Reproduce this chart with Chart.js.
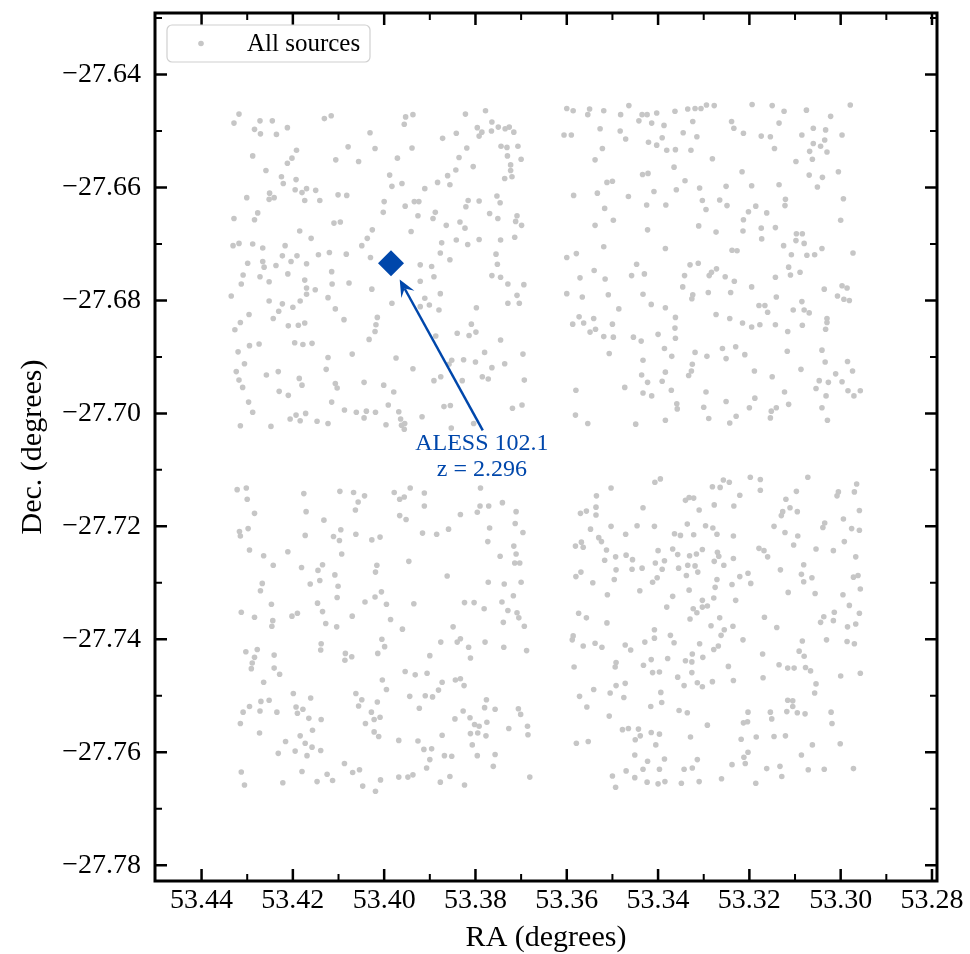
<!DOCTYPE html>
<html>
<head>
<meta charset="utf-8">
<script src="https://cdn.jsdelivr.net/npm/chart.js@4"></script>
<style>
  html, body { margin: 0; padding: 0; background: #fff; }
</style>
</head>
<body>
<canvas id="field" width="970" height="954"></canvas>
<script>
// Catalogue positions [RA, Dec] in degrees, one list per sub-field
const nwField = [
  [53.4318,-27.6470],[53.4329,-27.6486],[53.4272,-27.6482],[53.4245,-27.6482],[53.4284,-27.6497],[53.4271,-27.6505],[53.4236,-27.6506],[53.4212,-27.6494],
  [53.4131,-27.6478],[53.4116,-27.6473],[53.4031,-27.6503],[53.3953,-27.6475],[53.3937,-27.6471],[53.3956,-27.6488],[53.3822,-27.6470],[53.3778,-27.6464],
  [53.3764,-27.6484],[53.3796,-27.6494],[53.3786,-27.6502],[53.3792,-27.6509],[53.3765,-27.6500],[53.3750,-27.6493],[53.3735,-27.6496],[53.3726,-27.6493],
  [53.3716,-27.6502],[53.3872,-27.6513],[53.3842,-27.6504],[53.4288,-27.6544],[53.4192,-27.6534],[53.4202,-27.6548],[53.4212,-27.6557],[53.4259,-27.6570],
  [53.4079,-27.6528],[53.4020,-27.6531],[53.4106,-27.6551],[53.4056,-27.6554],[53.3971,-27.6548],[53.3939,-27.6530],[53.3819,-27.6530],[53.3836,-27.6547],
  [53.3805,-27.6563],[53.3843,-27.6569],[53.3744,-27.6527],[53.3731,-27.6529],[53.3707,-27.6527],[53.3730,-27.6544],[53.3700,-27.6550],[53.3723,-27.6560],
  [53.3723,-27.6570],[53.3736,-27.6584],[53.3720,-27.6581],[53.3861,-27.6579],[53.3856,-27.6595],[53.3883,-27.6591],[53.3911,-27.6602],[53.3988,-27.6578],
  [53.3983,-27.6598],[53.3961,-27.6593],[53.4225,-27.6581],[53.4221,-27.6593],[53.4193,-27.6586],[53.4195,-27.6604],[53.4180,-27.6609],[53.4170,-27.6602],
  [53.4150,-27.6605],[53.4251,-27.6610],[53.4252,-27.6621],[53.4241,-27.6618],[53.4301,-27.6618],[53.4174,-27.6623],[53.4141,-27.6623],[53.4101,-27.6613],
  [53.4082,-27.6614],[53.4000,-27.6625],[53.3954,-27.6633],[53.3934,-27.6625],[53.3924,-27.6625],[53.4002,-27.6644],[53.3926,-27.6650],[53.3888,-27.6644],
  [53.3893,-27.6655],[53.3816,-27.6623],[53.3792,-27.6624],[53.3821,-27.6634],[53.3753,-27.6615],[53.3746,-27.6627],[53.3769,-27.6646],[53.3751,-27.6655],
  [53.3709,-27.6650],[53.3712,-27.6660],[53.3699,-27.6667],[53.3864,-27.6667],[53.3834,-27.6661],[53.3823,-27.6672],[53.4277,-27.6645],[53.4329,-27.6655],
  [53.4284,-27.6657],[53.4110,-27.6663],[53.4096,-27.6661],[53.4185,-27.6677],[53.4160,-27.6690],[53.4026,-27.6675],[53.4037,-27.6690],[53.4049,-27.6703],
  [53.3941,-27.6678],[53.3874,-27.6698],[53.3842,-27.6693],[53.3817,-27.6701],[53.3792,-27.6692],[53.3745,-27.6693],[53.3714,-27.6688],[53.4331,-27.6703],
  [53.4318,-27.6699],[53.4288,-27.6700],[53.4266,-27.6707],[53.4217,-27.6703],[53.4223,-27.6721],[53.4191,-27.6721],[53.4204,-27.6731],[53.4170,-27.6735],
  [53.4144,-27.6719],[53.4120,-27.6715],[53.4083,-27.6718],[53.4030,-27.6724],[53.4299,-27.6734],[53.4266,-27.6731],[53.4237,-27.6738],[53.3877,-27.6716],
  [53.3856,-27.6728],[53.3921,-27.6737],[53.3896,-27.6740],[53.3755,-27.6718],[53.3752,-27.6736],
  [53.4263,-27.6741],[53.4309,-27.6755],[53.4313,-27.6771],[53.4272,-27.6758],[53.4252,-27.6767],[53.4211,-27.6753],[53.4174,-27.6764],[53.4170,-27.6778],
  [53.4170,-27.6789],[53.4151,-27.6781],[53.4115,-27.6749],[53.4114,-27.6771],[53.4077,-27.6769],[53.4027,-27.6780],[53.4335,-27.6792],[53.4252,-27.6801],
  [53.4223,-27.6806],[53.4231,-27.6819],[53.4200,-27.6812],[53.4184,-27.6801],[53.4123,-27.6795],[53.4107,-27.6815],[53.3983,-27.6805],[53.3921,-27.6766],
  [53.3891,-27.6758],[53.3877,-27.6788],[53.3911,-27.6796],[53.3921,-27.6811],[53.3901,-27.6808],[53.3880,-27.6817],[53.3764,-27.6756],[53.3745,-27.6759],
  [53.3729,-27.6771],[53.3709,-27.6791],[53.3729,-27.6805],[53.3704,-27.6805],[53.3694,-27.6772],[53.3798,-27.6813],[53.4296,-27.6825],[53.4315,-27.6839],
  [53.4327,-27.6852],[53.4243,-27.6832],[53.4210,-27.6845],[53.4188,-27.6844],[53.4174,-27.6840],[53.4088,-27.6834],[53.4015,-27.6830],[53.4018,-27.6843],
  [53.4020,-27.6855],[53.4033,-27.6869],[53.3809,-27.6842],[53.3840,-27.6858],[53.3814,-27.6862],[53.3799,-27.6856],[53.3745,-27.6870],[53.3887,-27.6863],
  [53.4295,-27.6880],[53.4274,-27.6877],[53.4196,-27.6875],[53.4178,-27.6878],[53.4158,-27.6876],[53.4320,-27.6891],[53.4306,-27.6912],[53.4324,-27.6926],
  [53.4318,-27.6941],[53.4310,-27.6954],[53.4258,-27.6932],[53.4232,-27.6926],[53.4123,-27.6901],[53.4070,-27.6895],[53.4127,-27.6922],[53.3974,-27.6902],
  [53.3937,-27.6921],[53.3852,-27.6906],[53.3826,-27.6905],[53.3800,-27.6909],[53.3780,-27.6892],[53.3764,-27.6919],[53.3736,-27.6912],[53.3696,-27.6895],
  [53.4186,-27.6938],[53.4180,-27.6950],[53.4107,-27.6947],[53.4103,-27.6955],[53.4044,-27.6945],[53.4001,-27.6950],[53.3979,-27.6962],[53.3891,-27.6942],
  [53.3876,-27.6935],[53.3858,-27.6913],[53.3829,-27.6942],[53.3785,-27.6935],[53.3772,-27.6939],[53.3693,-27.6941],[53.4230,-27.6961],[53.4210,-27.6968],
  [53.4297,-27.6980],[53.4288,-27.6998],[53.4115,-27.6980],[53.4087,-27.6994],[53.4061,-27.6998],[53.4039,-27.6996],[53.4019,-27.6998],[53.3991,-27.6985],
  [53.3968,-27.6997],[53.4044,-27.7008],[53.3964,-27.7010],[53.4206,-27.7010],[53.4193,-27.7003],[53.4184,-27.7013],[53.4172,-27.7000],[53.4147,-27.7014],
  [53.4123,-27.7018],[53.4315,-27.7022],[53.4248,-27.7023],[53.3996,-27.7020],[53.3962,-27.7021],[53.3955,-27.7018],[53.3956,-27.7028],[53.3917,-27.7006],
  [53.3869,-27.6988],[53.3855,-27.6986],[53.3853,-27.7026],[53.3804,-27.7018],[53.3719,-27.6991],[53.3698,-27.6985]
];

const neField = [
  [53.3600,-27.6460],[53.3586,-27.6464],[53.3550,-27.6461],[53.3554,-27.6471],[53.3519,-27.6464],[53.3482,-27.6471],[53.3464,-27.6455],[53.3435,-27.6471],
  [53.3424,-27.6471],[53.3403,-27.6468],[53.3442,-27.6482],[53.3414,-27.6486],[53.3387,-27.6490],[53.3363,-27.6465],[53.3335,-27.6461],[53.3319,-27.6460],
  [53.3306,-27.6460],[53.3294,-27.6454],[53.3277,-27.6455],[53.3324,-27.6483],[53.3345,-27.6503],[53.3315,-27.6510],[53.3391,-27.6512],[53.3421,-27.6520],
  [53.3403,-27.6525],[53.3381,-27.6534],[53.3362,-27.6533],[53.3328,-27.6534],[53.3281,-27.6549],[53.3239,-27.6483],[53.3234,-27.6495],[53.3213,-27.6504],
  [53.3194,-27.6453],[53.3150,-27.6455],[53.3124,-27.6465],[53.3135,-27.6486],[53.3075,-27.6463],[53.3022,-27.6474],[53.2979,-27.6454],[53.3606,-27.6507],
  [53.3590,-27.6507],[53.3527,-27.6496],[53.3483,-27.6500],[53.3471,-27.6514],[53.3522,-27.6531],[53.3538,-27.6551],[53.3174,-27.6509],[53.3154,-27.6510],
  [53.3145,-27.6531],[53.3085,-27.6507],[53.3060,-27.6495],[53.3033,-27.6498],[53.2997,-27.6507],[53.3060,-27.6522],[53.3035,-27.6516],[53.3044,-27.6527],
  [53.3068,-27.6536],[53.3030,-27.6537],[53.3098,-27.6554],[53.3062,-27.6550],[53.3365,-27.6564],[53.3434,-27.6577],[53.3422,-27.6575],[53.3512,-27.6591],
  [53.3500,-27.6589],[53.3341,-27.6588],[53.3216,-27.6572],[53.3069,-27.6578],[53.3040,-27.6582],[53.3005,-27.6572],[53.3585,-27.6614],[53.3533,-27.6610],
  [53.3465,-27.6616],[53.3409,-27.6607],[53.3360,-27.6604],[53.3309,-27.6601],[53.3251,-27.6598],[53.3195,-27.6597],[53.3135,-27.6595],[53.3051,-27.6599],
  [53.3517,-27.6637],[53.3425,-27.6631],[53.3383,-27.6631],[53.3303,-27.6623],[53.3295,-27.6639],[53.3265,-27.6622],[53.3249,-27.6632],[53.3186,-27.6633],
  [53.3202,-27.6643],[53.3162,-27.6645],[53.3213,-27.6657],[53.3121,-27.6621],[53.3122,-27.6632],[53.2994,-27.6620],[53.3538,-27.6667],[53.3498,-27.6658],
  [53.3423,-27.6675],[53.3311,-27.6668],[53.3273,-27.6679],[53.3214,-27.6677],[53.3174,-27.6672],[53.3143,-27.6671],[53.3173,-27.6691],[53.3097,-27.6682],
  [53.3084,-27.6682],[53.3098,-27.6694],[53.3080,-27.6699],[53.3000,-27.6658],[53.3519,-27.6705],[53.3384,-27.6708],[53.3238,-27.6711],[53.3227,-27.6712],
  [53.3125,-27.6703],[53.3041,-27.6708],[53.3057,-27.6719],[53.3074,-27.6720],[53.3108,-27.6719],[53.2973,-27.6716],[53.3600,-27.6724],[53.3579,-27.6717],
  [53.3447,-27.6736],[53.3330,-27.6737],[53.3312,-27.6734],[53.3114,-27.6741],[53.3540,-27.6747],[53.3571,-27.6760],[53.3516,-27.6762],[53.3458,-27.6756],
  [53.3430,-27.6753],[53.3342,-27.6756],[53.3288,-27.6756],[53.3283,-27.6750],[53.3272,-27.6744],[53.3253,-27.6758],[53.3233,-27.6766],[53.3143,-27.6759],
  [53.3110,-27.6755],[53.3089,-27.6750],[53.3600,-27.6788],[53.3566,-27.6794],[53.3509,-27.6790],[53.3433,-27.6789],[53.3346,-27.6776],[53.3324,-27.6790],
  [53.3326,-27.6797],[53.3290,-27.6786],[53.3241,-27.6786],[53.3195,-27.6776],[53.3141,-27.6794],[53.3036,-27.6780],[53.2997,-27.6774],[53.2986,-27.6778],
  [53.3007,-27.6792],[53.2993,-27.6798],[53.2981,-27.6800],[53.3486,-27.6815],[53.3415,-27.6807],[53.3384,-27.6813],[53.3179,-27.6809],[53.3166,-27.6809],
  [53.3160,-27.6821],[53.3085,-27.6802],[53.3104,-27.6817],[53.3080,-27.6817],[53.3069,-27.6822],[53.3573,-27.6829],[53.3587,-27.6842],[53.3563,-27.6840],
  [53.3541,-27.6832],[53.3549,-27.6856],[53.3537,-27.6851],[53.3500,-27.6842],[53.3519,-27.6864],[53.3498,-27.6865],[53.3454,-27.6865],[53.3437,-27.6872],
  [53.3400,-27.6860],[53.3362,-27.6830],[53.3363,-27.6849],[53.3362,-27.6867],[53.3273,-27.6825],[53.3243,-27.6832],[53.3215,-27.6840],[53.3195,-27.6847],
  [53.3177,-27.6843],[53.3143,-27.6843],[53.3116,-27.6855],[53.3084,-27.6844],[53.3030,-27.6832],[53.3030,-27.6839],[53.3033,-27.6851],[53.3507,-27.6894],
  [53.3433,-27.6906],[53.3386,-27.6885],[53.3370,-27.6899],[53.3319,-27.6892],[53.3293,-27.6899],[53.3259,-27.6885],[53.3251,-27.6903],[53.3230,-27.6882],
  [53.3210,-27.6896],[53.3117,-27.6890],[53.3041,-27.6888],[53.3034,-27.6909],[53.2985,-27.6908],[53.3436,-27.6932],[53.3423,-27.6945],[53.3384,-27.6927],
  [53.3391,-27.6943],[53.3325,-27.6913],[53.3327,-27.6925],[53.3333,-27.6933],[53.3189,-27.6925],[53.3150,-27.6935],[53.3087,-27.6922],[53.3011,-27.6930],
  [53.2974,-27.6925],[53.3047,-27.6942],[53.3027,-27.6945],[53.2997,-27.6944],[53.3580,-27.6959],[53.3473,-27.6954],[53.3433,-27.6964],[53.3414,-27.6969],
  [53.3371,-27.6959],[53.3295,-27.6962],[53.3188,-27.6973],[53.3123,-27.6962],[53.3114,-27.6984],[53.3054,-27.6956],[53.3032,-27.6969],[53.2984,-27.6960],
  [53.2971,-27.6969],[53.2957,-27.6960],[53.3359,-27.6983],[53.3358,-27.6992],[53.3300,-27.6989],[53.3251,-27.6979],[53.3200,-27.6990],[53.3152,-27.6996],
  [53.3141,-27.6990],[53.3041,-27.6990],[53.3581,-27.7003],[53.3554,-27.7018],[53.3449,-27.7019],[53.3384,-27.7012],[53.3289,-27.7009],[53.3243,-27.7017],
  [53.3229,-27.7005],[53.3154,-27.7008],[53.3029,-27.7012]
];

const swField = [
  [53.4322,-27.7135],[53.4302,-27.7132],[53.4300,-27.7152],[53.4284,-27.7177],[53.4317,-27.7209],[53.4315,-27.7217],[53.4298,-27.7204],[53.4295,-27.7242],
  [53.4264,-27.7252],[53.4243,-27.7269],[53.4211,-27.7245],[53.4176,-27.7142],[53.4171,-27.7174],[53.4132,-27.7189],[53.4173,-27.7216],[53.4181,-27.7273],
  [53.4145,-27.7278],[53.4135,-27.7268],[53.4162,-27.7302],[53.4141,-27.7296],[53.4108,-27.7286],[53.4101,-27.7306],[53.4103,-27.7326],[53.4097,-27.7138],
  [53.4067,-27.7140],[53.4043,-27.7146],[53.4057,-27.7157],[53.4063,-27.7171],[53.4095,-27.7206],[53.4111,-27.7218],[53.4098,-27.7225],[53.4093,-27.7249],
  [53.4062,-27.7214],[53.4027,-27.7224],[53.4009,-27.7219],[53.4016,-27.7269],[53.4019,-27.7281],[53.3978,-27.7140],[53.3966,-27.7152],[53.3956,-27.7148],
  [53.3943,-27.7132],[53.3912,-27.7141],[53.3912,-27.7164],[53.3966,-27.7181],[53.3952,-27.7188],[53.3916,-27.7212],[53.3885,-27.7214],[53.3859,-27.7205],
  [53.3946,-27.7262],[53.3862,-27.7288],[53.3833,-27.7179],[53.3796,-27.7175],[53.3790,-27.7164],[53.3771,-27.7164],[53.3789,-27.7132],[53.3741,-27.7158],
  [53.3711,-27.7174],[53.3713,-27.7195],[53.3696,-27.7211],[53.3769,-27.7203],[53.3773,-27.7227],[53.3746,-27.7253],[53.3716,-27.7235],[53.3711,-27.7249],
  [53.3714,-27.7265],[53.3703,-27.7265],[53.3772,-27.7299],[53.3737,-27.7302],[53.3700,-27.7299],[53.4267,-27.7301],[53.4271,-27.7314],[53.4247,-27.7338],
  [53.4313,-27.7352],[53.4284,-27.7361],[53.4244,-27.7367],[53.4246,-27.7377],[53.4202,-27.7359],[53.4190,-27.7354],[53.4146,-27.7336],[53.4135,-27.7351],
  [53.4128,-27.7372],[53.4104,-27.7378],[53.4070,-27.7359],[53.4042,-27.7334],[53.4020,-27.7325],[53.4006,-27.7316],[53.3995,-27.7338],[53.3986,-27.7365],
  [53.3960,-27.7382],[53.3935,-27.7337],[53.3824,-27.7335],[53.3803,-27.7335],[53.3781,-27.7346],[53.3742,-27.7334],[53.3717,-27.7323],[53.3729,-27.7349],
  [53.3709,-27.7353],[53.3705,-27.7362],[53.3739,-27.7370],[53.3693,-27.7377],[53.3849,-27.7378],
  [53.4005,-27.7400],[53.3876,-27.7405],[53.3840,-27.7405],[53.3833,-27.7399],[53.3779,-27.7405],[53.4138,-27.7408],[53.4139,-27.7419],[53.3999,-27.7413],
  [53.4014,-27.7425],[53.3900,-27.7429],[53.3815,-27.7414],[53.3811,-27.7433],[53.3738,-27.7414],[53.3688,-27.7420],[53.4303,-27.7422],[53.4278,-27.7418],
  [53.4284,-27.7432],[53.4289,-27.7442],[53.4291,-27.7452],[53.4241,-27.7428],[53.4241,-27.7451],[53.4229,-27.7462],[53.4264,-27.7476],[53.4085,-27.7425],
  [53.4086,-27.7437],[53.4071,-27.7431],[53.3954,-27.7457],[53.3932,-27.7463],[53.3906,-27.7460],[53.4004,-27.7472],[53.3995,-27.7489],[53.3873,-27.7476],
  [53.3881,-27.7490],[53.3844,-27.7472],[53.3833,-27.7470],[53.3825,-27.7482],[53.4199,-27.7496],[53.4161,-27.7504],[53.4270,-27.7510],[53.4252,-27.7508],
  [53.4295,-27.7519],[53.4309,-27.7529],[53.4272,-27.7527],[53.4235,-27.7529],[53.4193,-27.7520],[53.4190,-27.7531],[53.4178,-27.7524],[53.4165,-27.7540],
  [53.4138,-27.7542],[53.4315,-27.7549],[53.4273,-27.7566],[53.4157,-27.7561],[53.4184,-27.7571],[53.4216,-27.7581],[53.4173,-27.7584],[53.4158,-27.7591],
  [53.4139,-27.7597],[53.4195,-27.7598],[53.4232,-27.7602],[53.4169,-27.7606],[53.4062,-27.7496],[53.4049,-27.7507],[53.4056,-27.7518],[53.4028,-27.7529],
  [53.4022,-27.7542],[53.4009,-27.7538],[53.4015,-27.7511],[53.4041,-27.7549],[53.4022,-27.7564],[53.4012,-27.7572],[53.3944,-27.7501],[53.3923,-27.7522],
  [53.3910,-27.7500],[53.3894,-27.7502],[53.3845,-27.7541],[53.3827,-27.7527],[53.3812,-27.7539],[53.3802,-27.7551],[53.3792,-27.7554],[53.3776,-27.7507],
  [53.3780,-27.7521],[53.3757,-27.7524],[53.3775,-27.7547],[53.3795,-27.7566],[53.3811,-27.7567],[53.3777,-27.7571],[53.3873,-27.7570],[53.3968,-27.7579],
  [53.3926,-27.7580],[53.3913,-27.7595],[53.3896,-27.7594],[53.3900,-27.7613],[53.3907,-27.7628],[53.3868,-27.7606],[53.3852,-27.7607],[53.3807,-27.7587],
  [53.3796,-27.7606],[53.3757,-27.7604],[53.3761,-27.7625],[53.3727,-27.7558],[53.3706,-27.7523],[53.3701,-27.7533],[53.3686,-27.7554],[53.3685,-27.7569],
  [53.4087,-27.7620],[53.4069,-27.7636],[53.4054,-27.7631],[53.4008,-27.7649],[53.4047,-27.7660],[53.4019,-27.7669],[53.3968,-27.7644],[53.3948,-27.7644],
  [53.3937,-27.7640],[53.3877,-27.7653],[53.3856,-27.7643],[53.3824,-27.7658],[53.4180,-27.7634],[53.4125,-27.7639],[53.4113,-27.7650],[53.4147,-27.7652],
  [53.4222,-27.7654],[53.4313,-27.7635],[53.4306,-27.7658],[53.3681,-27.7644]
];

const seField = [
  [53.3407,-27.7122],[53.3395,-27.7116],[53.3503,-27.7132],[53.3535,-27.7146],[53.3536,-27.7166],[53.3536,-27.7180],[53.3557,-27.7173],[53.3570,-27.7177],
  [53.3433,-27.7167],[53.3548,-27.7205],[53.3503,-27.7200],[53.3446,-27.7199],[53.3408,-27.7200],[53.3471,-27.7214],[53.3530,-27.7220],[53.3524,-27.7227],
  [53.3568,-27.7228],[53.3581,-27.7235],[53.3564,-27.7237],[53.3513,-27.7242],[53.3493,-27.7254],[53.3517,-27.7260],[53.3470,-27.7251],[53.3456,-27.7259],
  [53.3492,-27.7277],[53.3496,-27.7294],[53.3457,-27.7276],[53.3435,-27.7274],[53.3569,-27.7281],[53.3580,-27.7289],[53.3543,-27.7300],[53.3511,-27.7321],
  [53.3440,-27.7314],[53.3574,-27.7354],[53.3557,-27.7362],[53.3512,-27.7371],[53.3281,-27.7130],[53.3264,-27.7131],[53.3257,-27.7118],[53.3244,-27.7122],
  [53.3198,-27.7113],[53.3176,-27.7117],[53.3176,-27.7136],[53.3221,-27.7145],[53.3234,-27.7164],[53.3277,-27.7162],[53.3340,-27.7154],[53.3332,-27.7149],
  [53.3322,-27.7150],[53.3310,-27.7171],[53.3336,-27.7196],[53.3296,-27.7199],[53.3280,-27.7203],[53.3271,-27.7214],[53.3235,-27.7217],[53.3364,-27.7213],
  [53.3351,-27.7216],[53.3322,-27.7215],[53.3400,-27.7243],[53.3368,-27.7240],[53.3357,-27.7250],[53.3331,-27.7252],[53.3316,-27.7249],[53.3303,-27.7241],
  [53.3270,-27.7246],[53.3267,-27.7253],[53.3277,-27.7262],[53.3406,-27.7265],[53.3386,-27.7261],[53.3391,-27.7276],[53.3355,-27.7274],[53.3335,-27.7269],
  [53.3319,-27.7270],[53.3313,-27.7281],[53.3338,-27.7287],[53.3256,-27.7269],[53.3235,-27.7257],[53.3402,-27.7291],[53.3412,-27.7299],[53.3271,-27.7294],
  [53.3275,-27.7308],[53.3238,-27.7303],[53.3221,-27.7289],[53.3203,-27.7283],[53.3197,-27.7301],[53.3332,-27.7313],[53.3368,-27.7324],[53.3381,-27.7343],
  [53.3303,-27.7331],[53.3323,-27.7346],[53.3315,-27.7353],[53.3303,-27.7343],[53.3292,-27.7341],[53.3278,-27.7327],[53.3230,-27.7331],[53.3330,-27.7364],
  [53.3284,-27.7376],[53.3265,-27.7362],[53.3255,-27.7383],[53.3236,-27.7377],[53.3408,-27.7383],[53.3179,-27.7239],[53.3168,-27.7243],[53.3160,-27.7254],
  [53.3146,-27.7200],[53.3122,-27.7211],[53.3103,-27.7233],[53.3094,-27.7217],[53.3132,-27.7277],[53.3127,-27.7174],[53.3130,-27.7181],[53.3111,-27.7167],
  [53.3095,-27.7174],[53.3120,-27.7152],[53.3097,-27.7138],[53.3072,-27.7113],[53.3039,-27.7202],[53.3035,-27.7194],[53.2994,-27.7187],[53.2976,-27.7204],
  [53.2959,-27.7172],[53.2965,-27.7125],[53.3005,-27.7139],[53.3008,-27.7146],[53.2970,-27.7139],[53.3054,-27.7240],[53.3016,-27.7243],[53.2992,-27.7227],
  [53.2967,-27.7254],[53.2959,-27.7207],[53.3081,-27.7268],[53.3086,-27.7285],[53.3081,-27.7298],[53.3063,-27.7291],[53.3115,-27.7317],[53.3056,-27.7319],
  [53.2995,-27.7321],[53.2972,-27.7290],[53.2962,-27.7287],[53.2957,-27.7311],[53.3167,-27.7361],[53.3140,-27.7379],[53.2981,-27.7340],[53.3014,-27.7352],
  [53.3037,-27.7360],[53.3044,-27.7370],[53.3016,-27.7367],[53.2959,-27.7354],[53.2985,-27.7378],[53.2967,-27.7373],
  [53.3586,-27.7394],[53.3588,-27.7401],[53.3564,-27.7412],[53.3538,-27.7407],[53.3523,-27.7414],[53.3472,-27.7410],[53.3460,-27.7419],[53.3429,-27.7405],
  [53.3408,-27.7398],[53.3373,-27.7393],[53.3365,-27.7406],[53.3309,-27.7408],[53.3262,-27.7393],[53.3278,-27.7418],[53.3268,-27.7412],[53.3214,-27.7401],
  [53.3584,-27.7449],[53.3492,-27.7441],[53.3494,-27.7449],[53.3432,-27.7446],[53.3415,-27.7436],[53.3379,-27.7434],[53.3340,-27.7438],[53.3326,-27.7440],
  [53.3325,-27.7426],[53.3302,-27.7432],[53.3412,-27.7459],[53.3397,-27.7458],[53.3326,-27.7459],[53.3357,-27.7467],[53.3343,-27.7482],[53.3314,-27.7477],
  [53.3303,-27.7484],[53.3281,-27.7475],[53.3246,-27.7448],[53.3235,-27.7473],[53.3171,-27.7426],[53.3170,-27.7468],[53.3135,-27.7445],[53.3116,-27.7451],
  [53.3102,-27.7451],[53.3077,-27.7450],[53.3066,-27.7456],[53.3091,-27.7421],[53.3080,-27.7430],[53.3084,-27.7403],[53.3031,-27.7401],[53.2986,-27.7404],
  [53.2970,-27.7408],[53.3000,-27.7465],[53.2957,-27.7460],[53.3054,-27.7479],[53.3057,-27.7495],[53.3572,-27.7501],[53.3541,-27.7489],[53.3505,-27.7495],
  [53.3492,-27.7482],[53.3472,-27.7478],[53.3475,-27.7503],[53.3556,-27.7520],[53.3507,-27.7536],[53.3394,-27.7494],[53.3392,-27.7512],[53.3416,-27.7519],
  [53.3354,-27.7526],[53.3336,-27.7530],[53.3292,-27.7552],[53.3203,-27.7529],[53.3213,-27.7548],[53.3204,-27.7546],[53.3154,-27.7529],[53.3151,-27.7541],
  [53.3116,-27.7508],[53.3105,-27.7509],[53.3105,-27.7519],[53.3118,-27.7528],[53.3095,-27.7530],[53.3078,-27.7532],[53.3021,-27.7529],[53.3019,-27.7549],
  [53.3478,-27.7560],[53.3465,-27.7558],[53.3443,-27.7559],[53.3415,-27.7565],[53.3397,-27.7568],[53.3439,-27.7571],[53.3450,-27.7578],[53.3405,-27.7587],
  [53.3329,-27.7573],[53.3218,-27.7577],[53.3185,-27.7573],[53.3146,-27.7572],[53.3121,-27.7571],[53.3062,-27.7587],[53.3001,-27.7585],[53.3579,-27.7584],
  [53.3553,-27.7581],[53.3451,-27.7605],[53.3423,-27.7616],[53.3386,-27.7612],[53.3314,-27.7613],[53.3203,-27.7600],[53.3212,-27.7609],[53.3209,-27.7620],
  [53.3238,-27.7622],[53.3162,-27.7629],[53.3133,-27.7625],[53.3129,-27.7643],[53.3086,-27.7605],[53.3071,-27.7631],[53.3036,-27.7630],[53.2972,-27.7629],
  [53.3500,-27.7642],[53.3470,-27.7633],[53.3433,-27.7630],[53.3397,-27.7630],[53.3343,-27.7630],[53.3325,-27.7628],[53.3451,-27.7645],[53.3424,-27.7653],
  [53.3400,-27.7656],[53.3385,-27.7652],[53.3349,-27.7655],[53.3310,-27.7652],[53.3261,-27.7647],[53.3186,-27.7655],[53.3493,-27.7662]
];

// highlighted galaxy
const targetName = 'ALESS 102.1';
const targetZ = '2.296';
const targetRA = 53.3985;
const targetDec = -27.6734;

// axes
const raLimits = [53.2789, 53.4502];
const decLimits = [-27.7828, -27.6291];
const raTicks = [53.44, 53.42, 53.40, 53.38, 53.36, 53.34, 53.32, 53.30, 53.28];
const raMinorTicks = [53.43, 53.41, 53.39, 53.37, 53.35, 53.33, 53.31, 53.29];
const decTicks = [-27.64, -27.66, -27.68, -27.70, -27.72, -27.74, -27.76, -27.78];
const decMinorTicks = [-27.63, -27.65, -27.67, -27.69, -27.71, -27.73, -27.75, -27.77];

// annotation text / arrow anchor (data coords)
const labelPos = [53.3786, -27.7054];
const arrowFrom = [53.3784, -27.7030];
const arrowTo = [53.3966, -27.6763];

const SERIF = '"Liberation Serif", "DejaVu Serif", serif';
const BLUE = '#0047ab';
const GREY = '#c6c6c6';

const allSources = [...nwField, ...neField, ...swField, ...seField].map(([x, y]) => ({ x, y }));

// inward ticks on all four sides, heavy frame, legend and the annotation arrow
const framePlugin = {
  id: 'frame',
  afterDraw(chart) {
    const { ctx, chartArea: a, scales: { x, y } } = chart;
    ctx.save();
    ctx.strokeStyle = '#000';
    ctx.lineCap = 'butt';
    const drawXTicks = (vals, len, width) => {
      ctx.lineWidth = width;
      ctx.beginPath();
      vals.forEach(v => {
        const px = x.getPixelForValue(v);
        ctx.moveTo(px, a.bottom); ctx.lineTo(px, a.bottom - len);
        ctx.moveTo(px, a.top); ctx.lineTo(px, a.top + len);
      });
      ctx.stroke();
    };
    const drawYTicks = (vals, len, width) => {
      ctx.lineWidth = width;
      ctx.beginPath();
      vals.forEach(v => {
        const py = y.getPixelForValue(v);
        ctx.moveTo(a.left, py); ctx.lineTo(a.left + len, py);
        ctx.moveTo(a.right, py); ctx.lineTo(a.right - len, py);
      });
      ctx.stroke();
    };
    drawXTicks(raTicks, 12, 2.5);
    drawXTicks(raMinorTicks, 7, 2);
    drawYTicks(decTicks, 12, 2.5);
    drawYTicks(decMinorTicks, 7, 2);
    ctx.lineWidth = 3;
    ctx.strokeRect(a.left, a.top, a.right - a.left, a.bottom - a.top);

    // legend box, upper left
    const bx = a.left + 12, by = a.top + 12, bw = 203, bh = 37;
    ctx.beginPath();
    ctx.roundRect(bx, by, bw, bh, 5);
    ctx.fillStyle = 'rgba(255,255,255,0.8)';
    ctx.fill();
    ctx.lineWidth = 1.2;
    ctx.strokeStyle = '#d0d0d0';
    ctx.stroke();
    ctx.fillStyle = GREY;
    ctx.beginPath();
    ctx.arc(bx + 34, by + bh / 2, 2.8, 0, Math.PI * 2);
    ctx.fill();
    ctx.fillStyle = '#000';
    ctx.font = '25px ' + SERIF;
    ctx.textAlign = 'left';
    ctx.textBaseline = 'middle';
    ctx.fillText(chart.data.datasets[1].label, bx + 80, by + bh / 2 + 1);
    ctx.restore();
  },
  afterDatasetsDraw(chart) {
    const { ctx, scales: { x, y } } = chart;
    const x0 = x.getPixelForValue(arrowFrom[0]), y0 = y.getPixelForValue(arrowFrom[1]);
    const x1 = x.getPixelForValue(arrowTo[0]), y1 = y.getPixelForValue(arrowTo[1]);
    const ang = Math.atan2(y1 - y0, x1 - x0);
    const ux = Math.cos(ang), uy = Math.sin(ang);
    const hl = 17, hw = 7.5;
    ctx.save();
    ctx.strokeStyle = BLUE;
    ctx.fillStyle = BLUE;
    ctx.lineWidth = 2.5;
    ctx.beginPath();
    ctx.moveTo(x0, y0);
    ctx.lineTo(x1 - ux * hl * 0.6, y1 - uy * hl * 0.6);
    ctx.stroke();
    ctx.beginPath();
    ctx.moveTo(x1, y1);
    ctx.lineTo(x1 - ux * hl - uy * hw, y1 - uy * hl + ux * hw);
    ctx.lineTo(x1 - ux * hl * 0.6, y1 - uy * hl * 0.6);
    ctx.lineTo(x1 - ux * hl + uy * hw, y1 - uy * hl - ux * hw);
    ctx.closePath();
    ctx.fill();

    const lx = x.getPixelForValue(labelPos[0]), ly = y.getPixelForValue(labelPos[1]);
    ctx.font = '24px ' + SERIF;
    ctx.textAlign = 'center';
    ctx.textBaseline = 'middle';
    ctx.fillText(targetName, lx, ly);
    ctx.fillText('z = ' + targetZ, lx, ly + 26);
    ctx.restore();
  }
};

new Chart(document.getElementById('field'), {
  type: 'scatter',
  data: {
    datasets: [
      {
        label: targetName,
        data: [{ x: targetRA, y: targetDec }],
        pointStyle: 'rectRot',
        pointRadius: 13,
        backgroundColor: BLUE,
        borderWidth: 0,
        order: 0
      },
      {
        label: 'All sources',
        data: allSources,
        pointRadius: 2.8,
        backgroundColor: GREY,
        borderWidth: 0,
        order: 1
      }
    ]
  },
  options: {
    responsive: false,
    animation: false,
    devicePixelRatio: 1,
    layout: { padding: { top: 7, right: 33, left: 0, bottom: 0 } },
    plugins: { legend: { display: false }, tooltip: { enabled: false } },
    scales: {
      x: {
        type: 'linear',
        reverse: true,
        min: raLimits[0],
        max: raLimits[1],
        afterBuildTicks: s => { s.ticks = raTicks.map(v => ({ value: v })); },
        afterFit: s => { s.height = 73; s.paddingLeft = 0; s.paddingRight = 0; },
        grid: { display: false, drawTicks: false },
        border: { display: false },
        ticks: {
          padding: 3,
          color: '#000',
          font: { family: SERIF, size: 28 },
          maxRotation: 0,
          callback: v => v.toFixed(2)
        },
        title: {
          display: true,
          text: 'RA (degrees)',
          color: '#000',
          font: { family: SERIF, size: 30, lineHeight: 1 },
          padding: { top: 0, bottom: 1 }
        }
      },
      y: {
        type: 'linear',
        min: decLimits[0],
        max: decLimits[1],
        afterBuildTicks: s => { s.ticks = decTicks.map(v => ({ value: v })); },
        afterFit: s => { s.width = 155; s.paddingTop = 0; s.paddingBottom = 0; },
        grid: { display: false, drawTicks: false },
        border: { display: false },
        ticks: {
          padding: 14,
          color: '#000',
          font: { family: SERIF, size: 28 },
          callback: v => '\u2212' + Math.abs(v).toFixed(2)
        },
        title: {
          display: true,
          text: 'Dec. (degrees)',
          color: '#000',
          font: { family: SERIF, size: 30, lineHeight: 1 },
          padding: { top: 18, bottom: 0 }
        }
      }
    }
  },
  plugins: [framePlugin]
});
</script>
</body>
</html>
